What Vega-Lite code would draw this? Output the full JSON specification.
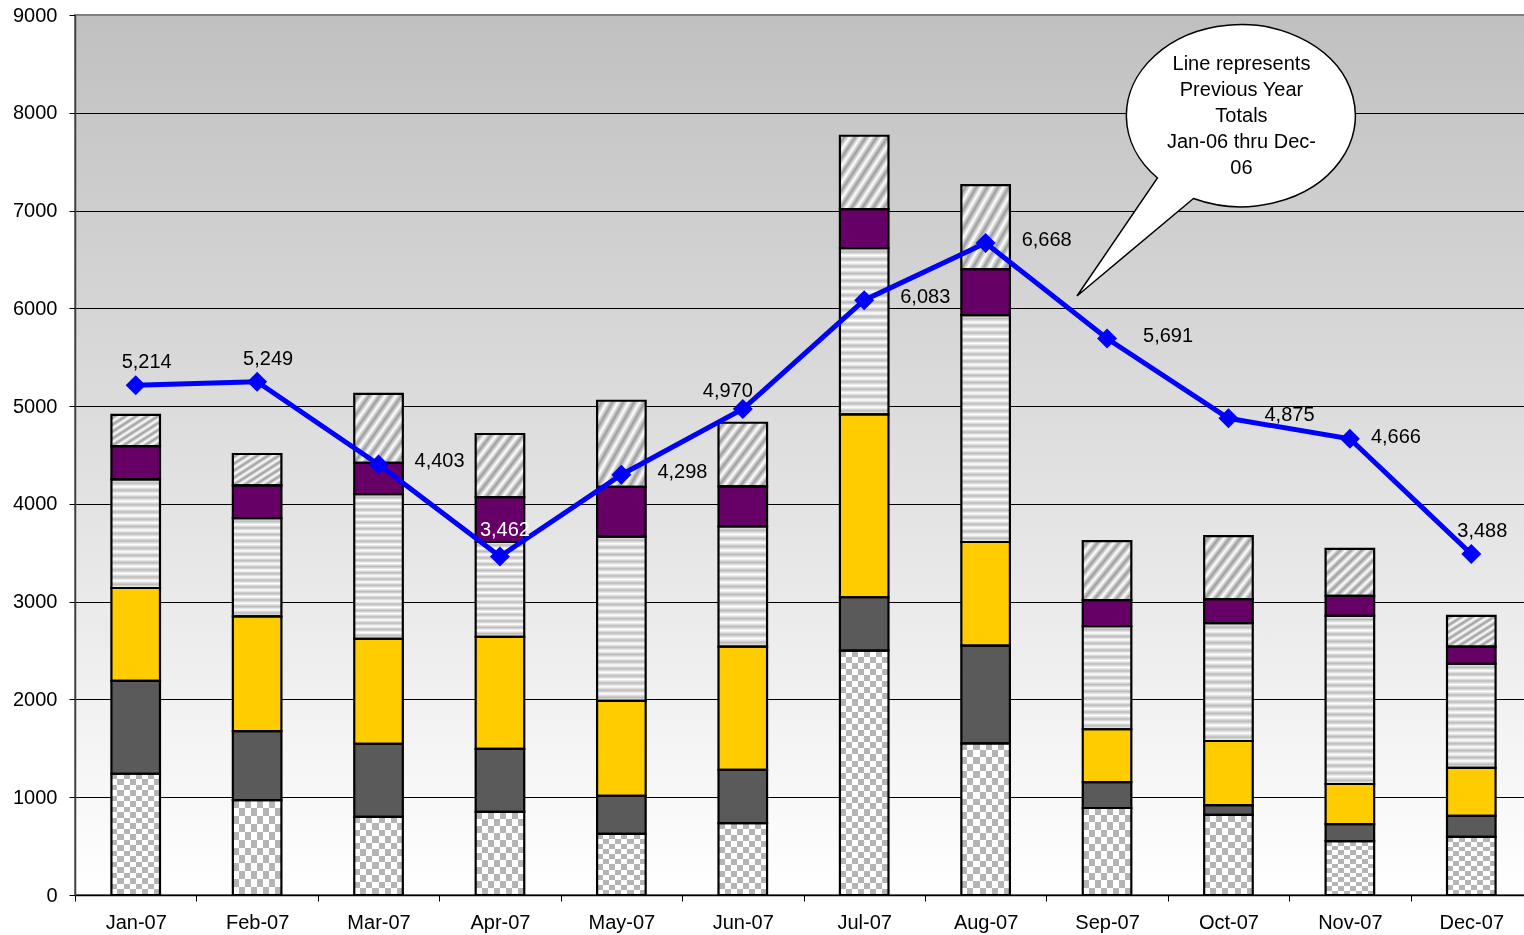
{
  "$schema": "https://vega.github.io/schema/vega-lite/v6.json",
  "width": 1457,
  "height": 880,
  "autosize": {"type": "none"},
  "padding": {"left": 75, "top": 15, "right": 0, "bottom": 40},
  "background": "#ffffff",
  "config": {
    "font": "Liberation Sans",
    "view": {
      "fill": {"gradient": "linear", "x1": 0, "y1": 0, "x2": 0, "y2": 1, "stops": [{"offset": 0, "color": "#c0c0c0"}, {"offset": 1, "color": "#ffffff"}]},
      "stroke": "#808080",
      "strokeWidth": 2
    },
    "axis": {"labelFont": "Liberation Sans", "labelFontSize": 20, "labelColor": "#000", "domainColor": "#000", "tickColor": "#000", "tickSize": 6, "title": null},
    "axisY": {"grid": true, "gridColor": {"condition": {"test": "datum.value === 9000", "value": "#808080"}, "value": "#000"}, "gridWidth": 1, "labelPadding": 12, "domainWidth": 1.5, "domainColor": "#404040", "format": "d"},
    "axisX": {"grid": false, "tickBand": "extent", "labelAngle": 0, "labelPadding": 11, "domainWidth": 1.5}
  },
  "datasets": {
    "segments": [
      {"month": "Jan-07", "series": "A", "value": 1240}, {"month": "Jan-07", "series": "B", "value": 950}, {"month": "Jan-07", "series": "C", "value": 950}, {"month": "Jan-07", "series": "D", "value": 1110}, {"month": "Jan-07", "series": "E", "value": 340}, {"month": "Jan-07", "series": "F", "value": 320},
      {"month": "Feb-07", "series": "A", "value": 970}, {"month": "Feb-07", "series": "B", "value": 705}, {"month": "Feb-07", "series": "C", "value": 1175}, {"month": "Feb-07", "series": "D", "value": 1005}, {"month": "Feb-07", "series": "E", "value": 335}, {"month": "Feb-07", "series": "F", "value": 320},
      {"month": "Mar-07", "series": "A", "value": 800}, {"month": "Mar-07", "series": "B", "value": 745}, {"month": "Mar-07", "series": "C", "value": 1075}, {"month": "Mar-07", "series": "D", "value": 1480}, {"month": "Mar-07", "series": "E", "value": 320}, {"month": "Mar-07", "series": "F", "value": 705},
      {"month": "Apr-07", "series": "A", "value": 850}, {"month": "Apr-07", "series": "B", "value": 645}, {"month": "Apr-07", "series": "C", "value": 1145}, {"month": "Apr-07", "series": "D", "value": 970}, {"month": "Apr-07", "series": "E", "value": 460}, {"month": "Apr-07", "series": "F", "value": 645},
      {"month": "May-07", "series": "A", "value": 625}, {"month": "May-07", "series": "B", "value": 390}, {"month": "May-07", "series": "C", "value": 970}, {"month": "May-07", "series": "D", "value": 1680}, {"month": "May-07", "series": "E", "value": 510}, {"month": "May-07", "series": "F", "value": 880},
      {"month": "Jun-07", "series": "A", "value": 735}, {"month": "Jun-07", "series": "B", "value": 545}, {"month": "Jun-07", "series": "C", "value": 1260}, {"month": "Jun-07", "series": "D", "value": 1230}, {"month": "Jun-07", "series": "E", "value": 410}, {"month": "Jun-07", "series": "F", "value": 650},
      {"month": "Jul-07", "series": "A", "value": 2500}, {"month": "Jul-07", "series": "B", "value": 545}, {"month": "Jul-07", "series": "C", "value": 1870}, {"month": "Jul-07", "series": "D", "value": 1700}, {"month": "Jul-07", "series": "E", "value": 400}, {"month": "Jul-07", "series": "F", "value": 750},
      {"month": "Aug-07", "series": "A", "value": 1550}, {"month": "Aug-07", "series": "B", "value": 1000}, {"month": "Aug-07", "series": "C", "value": 1060}, {"month": "Aug-07", "series": "D", "value": 2320}, {"month": "Aug-07", "series": "E", "value": 470}, {"month": "Aug-07", "series": "F", "value": 860},
      {"month": "Sep-07", "series": "A", "value": 890}, {"month": "Sep-07", "series": "B", "value": 265}, {"month": "Sep-07", "series": "C", "value": 540}, {"month": "Sep-07", "series": "D", "value": 1055}, {"month": "Sep-07", "series": "E", "value": 265}, {"month": "Sep-07", "series": "F", "value": 605},
      {"month": "Oct-07", "series": "A", "value": 820}, {"month": "Oct-07", "series": "B", "value": 100}, {"month": "Oct-07", "series": "C", "value": 655}, {"month": "Oct-07", "series": "D", "value": 1205}, {"month": "Oct-07", "series": "E", "value": 245}, {"month": "Oct-07", "series": "F", "value": 645},
      {"month": "Nov-07", "series": "A", "value": 550}, {"month": "Nov-07", "series": "B", "value": 175}, {"month": "Nov-07", "series": "C", "value": 410}, {"month": "Nov-07", "series": "D", "value": 1720}, {"month": "Nov-07", "series": "E", "value": 205}, {"month": "Nov-07", "series": "F", "value": 480},
      {"month": "Dec-07", "series": "A", "value": 595}, {"month": "Dec-07", "series": "B", "value": 215}, {"month": "Dec-07", "series": "C", "value": 490}, {"month": "Dec-07", "series": "D", "value": 1065}, {"month": "Dec-07", "series": "E", "value": 175}, {"month": "Dec-07", "series": "F", "value": 315}
    ],
    "previous": [
      {"month": "Jan-07", "total": 5214}, {"month": "Feb-07", "total": 5249}, {"month": "Mar-07", "total": 4403}, {"month": "Apr-07", "total": 3462},
      {"month": "May-07", "total": 4298}, {"month": "Jun-07", "total": 4970}, {"month": "Jul-07", "total": 6083}, {"month": "Aug-07", "total": 6668},
      {"month": "Sep-07", "total": 5691}, {"month": "Oct-07", "total": 4875}, {"month": "Nov-07", "total": 4666}, {"month": "Dec-07", "total": 3488}
    ]
  },
  "layer": [
    {
      "data": {"name": "segments"},
      "transform": [{"stack": "value", "groupby": ["month"], "sort": [{"field": "series", "order": "ascending"}], "as": ["y0", "y1"]}],
      "encoding": {
        "x": {"field": "month", "type": "nominal", "title": null, "scale": {"domain": ["Jan-07", "Feb-07", "Mar-07", "Apr-07", "May-07", "Jun-07", "Jul-07", "Aug-07", "Sep-07", "Oct-07", "Nov-07", "Dec-07"], "paddingInner": 0, "paddingOuter": 0}},
        "y": {"field": "y1", "type": "quantitative", "title": null, "scale": {"domain": [0, 9000], "nice": false}, "axis": {"values": [0, 1000, 2000, 3000, 4000, 5000, 6000, 7000, 8000, 9000]}},
        "y2": {"field": "y0"}
      },
      "layer": [
        {
          "transform": [{"filter": "datum.series === 'A'"}],
          "mark": {"type": "bar", "width": {"band": 0.4}, "fill": {"gradient": "linear", "x1": 0, "y1": 0, "x2": 1, "y2": 0, "stops": [{"offset": 0, "color": "#fff"}, {"offset": 0.125, "color": "#fff"}, {"offset": 0.125, "color": "#000"}, {"offset": 0.25, "color": "#000"}, {"offset": 0.25, "color": "#fff"}, {"offset": 0.375, "color": "#fff"}, {"offset": 0.375, "color": "#000"}, {"offset": 0.5, "color": "#000"}, {"offset": 0.5, "color": "#fff"}, {"offset": 0.625, "color": "#fff"}, {"offset": 0.625, "color": "#000"}, {"offset": 0.75, "color": "#000"}, {"offset": 0.75, "color": "#fff"}, {"offset": 0.875, "color": "#fff"}, {"offset": 0.875, "color": "#000"}, {"offset": 1, "color": "#000"}]}}
        },
        {
          "transform": [{"filter": "datum.series === 'A' && datum.value < 1000"}],
          "mark": {"type": "bar", "width": {"band": 0.4}, "blend": "difference", "fill": {"gradient": "linear", "x1": 0, "y1": 0, "x2": 0, "y2": 1, "stops": [{"offset": 0, "color": "#fff"}, {"offset": 0.0833, "color": "#fff"}, {"offset": 0.0833, "color": "#000"}, {"offset": 0.1667, "color": "#000"}, {"offset": 0.1667, "color": "#fff"}, {"offset": 0.25, "color": "#fff"}, {"offset": 0.25, "color": "#000"}, {"offset": 0.3333, "color": "#000"}, {"offset": 0.3333, "color": "#fff"}, {"offset": 0.4167, "color": "#fff"}, {"offset": 0.4167, "color": "#000"}, {"offset": 0.5, "color": "#000"}, {"offset": 0.5, "color": "#fff"}, {"offset": 0.5833, "color": "#fff"}, {"offset": 0.5833, "color": "#000"}, {"offset": 0.6667, "color": "#000"}, {"offset": 0.6667, "color": "#fff"}, {"offset": 0.75, "color": "#fff"}, {"offset": 0.75, "color": "#000"}, {"offset": 0.8333, "color": "#000"}, {"offset": 0.8333, "color": "#fff"}, {"offset": 0.9167, "color": "#fff"}, {"offset": 0.9167, "color": "#000"}, {"offset": 1, "color": "#000"}]}}
        },
        {
          "transform": [{"filter": "datum.series === 'A' && datum.value >= 1000 && datum.value < 2000"}],
          "mark": {"type": "bar", "width": {"band": 0.4}, "blend": "difference", "fill": {"gradient": "linear", "x1": 0, "y1": 0, "x2": 0, "y2": 1, "stops": [{"offset": 0, "color": "#fff"}, {"offset": 0.0455, "color": "#fff"}, {"offset": 0.0455, "color": "#000"}, {"offset": 0.0909, "color": "#000"}, {"offset": 0.0909, "color": "#fff"}, {"offset": 0.1364, "color": "#fff"}, {"offset": 0.1364, "color": "#000"}, {"offset": 0.1818, "color": "#000"}, {"offset": 0.1818, "color": "#fff"}, {"offset": 0.2273, "color": "#fff"}, {"offset": 0.2273, "color": "#000"}, {"offset": 0.2727, "color": "#000"}, {"offset": 0.2727, "color": "#fff"}, {"offset": 0.3182, "color": "#fff"}, {"offset": 0.3182, "color": "#000"}, {"offset": 0.3636, "color": "#000"}, {"offset": 0.3636, "color": "#fff"}, {"offset": 0.4091, "color": "#fff"}, {"offset": 0.4091, "color": "#000"}, {"offset": 0.4545, "color": "#000"}, {"offset": 0.4545, "color": "#fff"}, {"offset": 0.5, "color": "#fff"}, {"offset": 0.5, "color": "#000"}, {"offset": 0.5455, "color": "#000"}, {"offset": 0.5455, "color": "#fff"}, {"offset": 0.5909, "color": "#fff"}, {"offset": 0.5909, "color": "#000"}, {"offset": 0.6364, "color": "#000"}, {"offset": 0.6364, "color": "#fff"}, {"offset": 0.6818, "color": "#fff"}, {"offset": 0.6818, "color": "#000"}, {"offset": 0.7273, "color": "#000"}, {"offset": 0.7273, "color": "#fff"}, {"offset": 0.7727, "color": "#fff"}, {"offset": 0.7727, "color": "#000"}, {"offset": 0.8182, "color": "#000"}, {"offset": 0.8182, "color": "#fff"}, {"offset": 0.8636, "color": "#fff"}, {"offset": 0.8636, "color": "#000"}, {"offset": 0.9091, "color": "#000"}, {"offset": 0.9091, "color": "#fff"}, {"offset": 0.9545, "color": "#fff"}, {"offset": 0.9545, "color": "#000"}, {"offset": 1, "color": "#000"}]}}
        },
        {
          "transform": [{"filter": "datum.series === 'A' && datum.value >= 2000"}],
          "mark": {"type": "bar", "width": {"band": 0.4}, "blend": "difference", "fill": {"gradient": "linear", "x1": 0, "y1": 0, "x2": 0, "y2": 1, "stops": [{"offset": 0, "color": "#fff"}, {"offset": 0.025, "color": "#fff"}, {"offset": 0.025, "color": "#000"}, {"offset": 0.05, "color": "#000"}, {"offset": 0.05, "color": "#fff"}, {"offset": 0.075, "color": "#fff"}, {"offset": 0.075, "color": "#000"}, {"offset": 0.1, "color": "#000"}, {"offset": 0.1, "color": "#fff"}, {"offset": 0.125, "color": "#fff"}, {"offset": 0.125, "color": "#000"}, {"offset": 0.15, "color": "#000"}, {"offset": 0.15, "color": "#fff"}, {"offset": 0.175, "color": "#fff"}, {"offset": 0.175, "color": "#000"}, {"offset": 0.2, "color": "#000"}, {"offset": 0.2, "color": "#fff"}, {"offset": 0.225, "color": "#fff"}, {"offset": 0.225, "color": "#000"}, {"offset": 0.25, "color": "#000"}, {"offset": 0.25, "color": "#fff"}, {"offset": 0.275, "color": "#fff"}, {"offset": 0.275, "color": "#000"}, {"offset": 0.3, "color": "#000"}, {"offset": 0.3, "color": "#fff"}, {"offset": 0.325, "color": "#fff"}, {"offset": 0.325, "color": "#000"}, {"offset": 0.35, "color": "#000"}, {"offset": 0.35, "color": "#fff"}, {"offset": 0.375, "color": "#fff"}, {"offset": 0.375, "color": "#000"}, {"offset": 0.4, "color": "#000"}, {"offset": 0.4, "color": "#fff"}, {"offset": 0.425, "color": "#fff"}, {"offset": 0.425, "color": "#000"}, {"offset": 0.45, "color": "#000"}, {"offset": 0.45, "color": "#fff"}, {"offset": 0.475, "color": "#fff"}, {"offset": 0.475, "color": "#000"}, {"offset": 0.5, "color": "#000"}, {"offset": 0.5, "color": "#fff"}, {"offset": 0.525, "color": "#fff"}, {"offset": 0.525, "color": "#000"}, {"offset": 0.55, "color": "#000"}, {"offset": 0.55, "color": "#fff"}, {"offset": 0.575, "color": "#fff"}, {"offset": 0.575, "color": "#000"}, {"offset": 0.6, "color": "#000"}, {"offset": 0.6, "color": "#fff"}, {"offset": 0.625, "color": "#fff"}, {"offset": 0.625, "color": "#000"}, {"offset": 0.65, "color": "#000"}, {"offset": 0.65, "color": "#fff"}, {"offset": 0.675, "color": "#fff"}, {"offset": 0.675, "color": "#000"}, {"offset": 0.7, "color": "#000"}, {"offset": 0.7, "color": "#fff"}, {"offset": 0.725, "color": "#fff"}, {"offset": 0.725, "color": "#000"}, {"offset": 0.75, "color": "#000"}, {"offset": 0.75, "color": "#fff"}, {"offset": 0.775, "color": "#fff"}, {"offset": 0.775, "color": "#000"}, {"offset": 0.8, "color": "#000"}, {"offset": 0.8, "color": "#fff"}, {"offset": 0.825, "color": "#fff"}, {"offset": 0.825, "color": "#000"}, {"offset": 0.85, "color": "#000"}, {"offset": 0.85, "color": "#fff"}, {"offset": 0.875, "color": "#fff"}, {"offset": 0.875, "color": "#000"}, {"offset": 0.9, "color": "#000"}, {"offset": 0.9, "color": "#fff"}, {"offset": 0.925, "color": "#fff"}, {"offset": 0.925, "color": "#000"}, {"offset": 0.95, "color": "#000"}, {"offset": 0.95, "color": "#fff"}, {"offset": 0.975, "color": "#fff"}, {"offset": 0.975, "color": "#000"}, {"offset": 1, "color": "#000"}]}}
        },
        {
          "transform": [{"filter": "datum.series === 'A'"}],
          "mark": {"type": "bar", "width": {"band": 0.4}, "blend": "screen", "fill": "#b4b4b4"}
        },
        {
          "transform": [{"filter": "datum.series === 'B'"}],
          "mark": {"type": "bar", "width": {"band": 0.4}, "fill": "#5a5a5a"}
        },
        {
          "transform": [{"filter": "datum.series === 'C'"}],
          "mark": {"type": "bar", "width": {"band": 0.4}, "fill": "#ffcc00"}
        },
        {
          "transform": [{"filter": "datum.series === 'D' && datum.value < 1300"}],
          "mark": {"type": "bar", "width": {"band": 0.4}, "fill": {"gradient": "linear", "x1": 0, "y1": 0, "x2": 0, "y2": 1, "stops": [{"offset": 0, "color": "#fff"}, {"offset": 0.0333, "color": "#bbb"}, {"offset": 0.0667, "color": "#fff"}, {"offset": 0.1, "color": "#bbb"}, {"offset": 0.1333, "color": "#fff"}, {"offset": 0.1667, "color": "#bbb"}, {"offset": 0.2, "color": "#fff"}, {"offset": 0.2333, "color": "#bbb"}, {"offset": 0.2667, "color": "#fff"}, {"offset": 0.3, "color": "#bbb"}, {"offset": 0.3333, "color": "#fff"}, {"offset": 0.3667, "color": "#bbb"}, {"offset": 0.4, "color": "#fff"}, {"offset": 0.4333, "color": "#bbb"}, {"offset": 0.4667, "color": "#fff"}, {"offset": 0.5, "color": "#bbb"}, {"offset": 0.5333, "color": "#fff"}, {"offset": 0.5667, "color": "#bbb"}, {"offset": 0.6, "color": "#fff"}, {"offset": 0.6333, "color": "#bbb"}, {"offset": 0.6667, "color": "#fff"}, {"offset": 0.7, "color": "#bbb"}, {"offset": 0.7333, "color": "#fff"}, {"offset": 0.7667, "color": "#bbb"}, {"offset": 0.8, "color": "#fff"}, {"offset": 0.8333, "color": "#bbb"}, {"offset": 0.8667, "color": "#fff"}, {"offset": 0.9, "color": "#bbb"}, {"offset": 0.9333, "color": "#fff"}, {"offset": 0.9667, "color": "#bbb"}, {"offset": 1, "color": "#fff"}]}}
        },
        {
          "transform": [{"filter": "datum.series === 'D' && datum.value >= 1300 && datum.value < 2000"}],
          "mark": {"type": "bar", "width": {"band": 0.4}, "fill": {"gradient": "linear", "x1": 0, "y1": 0, "x2": 0, "y2": 1, "stops": [{"offset": 0, "color": "#fff"}, {"offset": 0.0217, "color": "#bbb"}, {"offset": 0.0435, "color": "#fff"}, {"offset": 0.0652, "color": "#bbb"}, {"offset": 0.087, "color": "#fff"}, {"offset": 0.1087, "color": "#bbb"}, {"offset": 0.1304, "color": "#fff"}, {"offset": 0.1522, "color": "#bbb"}, {"offset": 0.1739, "color": "#fff"}, {"offset": 0.1957, "color": "#bbb"}, {"offset": 0.2174, "color": "#fff"}, {"offset": 0.2391, "color": "#bbb"}, {"offset": 0.2609, "color": "#fff"}, {"offset": 0.2826, "color": "#bbb"}, {"offset": 0.3043, "color": "#fff"}, {"offset": 0.3261, "color": "#bbb"}, {"offset": 0.3478, "color": "#fff"}, {"offset": 0.3696, "color": "#bbb"}, {"offset": 0.3913, "color": "#fff"}, {"offset": 0.413, "color": "#bbb"}, {"offset": 0.4348, "color": "#fff"}, {"offset": 0.4565, "color": "#bbb"}, {"offset": 0.4783, "color": "#fff"}, {"offset": 0.5, "color": "#bbb"}, {"offset": 0.5217, "color": "#fff"}, {"offset": 0.5435, "color": "#bbb"}, {"offset": 0.5652, "color": "#fff"}, {"offset": 0.587, "color": "#bbb"}, {"offset": 0.6087, "color": "#fff"}, {"offset": 0.6304, "color": "#bbb"}, {"offset": 0.6522, "color": "#fff"}, {"offset": 0.6739, "color": "#bbb"}, {"offset": 0.6957, "color": "#fff"}, {"offset": 0.7174, "color": "#bbb"}, {"offset": 0.7391, "color": "#fff"}, {"offset": 0.7609, "color": "#bbb"}, {"offset": 0.7826, "color": "#fff"}, {"offset": 0.8043, "color": "#bbb"}, {"offset": 0.8261, "color": "#fff"}, {"offset": 0.8478, "color": "#bbb"}, {"offset": 0.8696, "color": "#fff"}, {"offset": 0.8913, "color": "#bbb"}, {"offset": 0.913, "color": "#fff"}, {"offset": 0.9348, "color": "#bbb"}, {"offset": 0.9565, "color": "#fff"}, {"offset": 0.9783, "color": "#bbb"}, {"offset": 1, "color": "#fff"}]}}
        },
        {
          "transform": [{"filter": "datum.series === 'D' && datum.value >= 2000"}],
          "mark": {"type": "bar", "width": {"band": 0.4}, "fill": {"gradient": "linear", "x1": 0, "y1": 0, "x2": 0, "y2": 1, "stops": [{"offset": 0, "color": "#fff"}, {"offset": 0.0156, "color": "#bbb"}, {"offset": 0.0313, "color": "#fff"}, {"offset": 0.0469, "color": "#bbb"}, {"offset": 0.0625, "color": "#fff"}, {"offset": 0.0781, "color": "#bbb"}, {"offset": 0.0938, "color": "#fff"}, {"offset": 0.1094, "color": "#bbb"}, {"offset": 0.125, "color": "#fff"}, {"offset": 0.1406, "color": "#bbb"}, {"offset": 0.1563, "color": "#fff"}, {"offset": 0.1719, "color": "#bbb"}, {"offset": 0.1875, "color": "#fff"}, {"offset": 0.2031, "color": "#bbb"}, {"offset": 0.2188, "color": "#fff"}, {"offset": 0.2344, "color": "#bbb"}, {"offset": 0.25, "color": "#fff"}, {"offset": 0.2656, "color": "#bbb"}, {"offset": 0.2813, "color": "#fff"}, {"offset": 0.2969, "color": "#bbb"}, {"offset": 0.3125, "color": "#fff"}, {"offset": 0.3281, "color": "#bbb"}, {"offset": 0.3438, "color": "#fff"}, {"offset": 0.3594, "color": "#bbb"}, {"offset": 0.375, "color": "#fff"}, {"offset": 0.3906, "color": "#bbb"}, {"offset": 0.4063, "color": "#fff"}, {"offset": 0.4219, "color": "#bbb"}, {"offset": 0.4375, "color": "#fff"}, {"offset": 0.4531, "color": "#bbb"}, {"offset": 0.4688, "color": "#fff"}, {"offset": 0.4844, "color": "#bbb"}, {"offset": 0.5, "color": "#fff"}, {"offset": 0.5156, "color": "#bbb"}, {"offset": 0.5313, "color": "#fff"}, {"offset": 0.5469, "color": "#bbb"}, {"offset": 0.5625, "color": "#fff"}, {"offset": 0.5781, "color": "#bbb"}, {"offset": 0.5938, "color": "#fff"}, {"offset": 0.6094, "color": "#bbb"}, {"offset": 0.625, "color": "#fff"}, {"offset": 0.6406, "color": "#bbb"}, {"offset": 0.6563, "color": "#fff"}, {"offset": 0.6719, "color": "#bbb"}, {"offset": 0.6875, "color": "#fff"}, {"offset": 0.7031, "color": "#bbb"}, {"offset": 0.7188, "color": "#fff"}, {"offset": 0.7344, "color": "#bbb"}, {"offset": 0.75, "color": "#fff"}, {"offset": 0.7656, "color": "#bbb"}, {"offset": 0.7813, "color": "#fff"}, {"offset": 0.7969, "color": "#bbb"}, {"offset": 0.8125, "color": "#fff"}, {"offset": 0.8281, "color": "#bbb"}, {"offset": 0.8438, "color": "#fff"}, {"offset": 0.8594, "color": "#bbb"}, {"offset": 0.875, "color": "#fff"}, {"offset": 0.8906, "color": "#bbb"}, {"offset": 0.9063, "color": "#fff"}, {"offset": 0.9219, "color": "#bbb"}, {"offset": 0.9375, "color": "#fff"}, {"offset": 0.9531, "color": "#bbb"}, {"offset": 0.9688, "color": "#fff"}, {"offset": 0.9844, "color": "#bbb"}, {"offset": 1, "color": "#fff"}]}}
        },
        {
          "transform": [{"filter": "datum.series === 'E'"}],
          "mark": {"type": "bar", "width": {"band": 0.4}, "fill": "#660066"}
        },
        {
          "transform": [{"filter": "datum.series === 'F'"}],
          "mark": {"type": "bar", "width": {"band": 0.4}, "fill": {"gradient": "linear", "x1": 0, "y1": 0, "x2": 1, "y2": 1, "stops": [{"offset": 0, "color": "#fff"}, {"offset": 0.0556, "color": "#9c9c9c"}, {"offset": 0.1111, "color": "#fff"}, {"offset": 0.1667, "color": "#9c9c9c"}, {"offset": 0.2222, "color": "#fff"}, {"offset": 0.2778, "color": "#9c9c9c"}, {"offset": 0.3333, "color": "#fff"}, {"offset": 0.3889, "color": "#9c9c9c"}, {"offset": 0.4444, "color": "#fff"}, {"offset": 0.5, "color": "#9c9c9c"}, {"offset": 0.5556, "color": "#fff"}, {"offset": 0.6111, "color": "#9c9c9c"}, {"offset": 0.6667, "color": "#fff"}, {"offset": 0.7222, "color": "#9c9c9c"}, {"offset": 0.7778, "color": "#fff"}, {"offset": 0.8333, "color": "#9c9c9c"}, {"offset": 0.8889, "color": "#fff"}, {"offset": 0.9444, "color": "#9c9c9c"}, {"offset": 1, "color": "#fff"}]}}
        },
        {
          "mark": {"type": "bar", "width": {"band": 0.4}, "fillOpacity": 0, "stroke": "#000", "strokeWidth": 2.2}
        }
      ]
    },
    {
      "data": {"name": "previous"},
      "encoding": {
        "x": {"field": "month", "type": "nominal", "title": null},
        "y": {"field": "total", "type": "quantitative", "title": null, "scale": {"domain": [0, 9000], "nice": false}}
      },
      "layer": [
        {"mark": {"type": "line", "stroke": "#0000ff", "strokeWidth": 5}},
        {"mark": {"type": "point", "shape": "diamond", "filled": true, "size": 400, "fill": "#0000ff", "opacity": 1}},
        {
          "transform": [{"filter": "indexof(['Jan-07', 'Feb-07', 'Dec-07'], datum.month) >= 0"}],
          "mark": {"type": "text", "fontSize": 20, "align": "center", "baseline": "middle", "dx": 11, "dy": -23, "fill": "#000"},
          "encoding": {"text": {"field": "total", "type": "quantitative", "format": ",d"}}
        },
        {
          "transform": [{"filter": "datum.month === 'Apr-07'"}],
          "mark": {"type": "text", "fontSize": 20, "align": "center", "baseline": "middle", "dx": 5, "dy": -26, "fill": "#ffffff"},
          "encoding": {"text": {"field": "total", "type": "quantitative", "format": ",d"}}
        },
        {
          "transform": [{"filter": "datum.month === 'Jun-07'"}],
          "mark": {"type": "text", "fontSize": 20, "align": "center", "baseline": "middle", "dx": -15, "dy": -18, "fill": "#000"},
          "encoding": {"text": {"field": "total", "type": "quantitative", "format": ",d"}}
        },
        {
          "transform": [{"filter": "indexof(['Mar-07', 'May-07', 'Jul-07', 'Aug-07', 'Sep-07', 'Oct-07'], datum.month) >= 0"}],
          "mark": {"type": "text", "fontSize": 20, "align": "left", "baseline": "middle", "dx": 36, "dy": -3, "fill": "#000"},
          "encoding": {"text": {"field": "total", "type": "quantitative", "format": ",d"}}
        },
        {
          "transform": [{"filter": "datum.month === 'Nov-07'"}],
          "mark": {"type": "text", "fontSize": 20, "align": "left", "baseline": "middle", "dx": 21, "dy": -2, "fill": "#000"},
          "encoding": {"text": {"field": "total", "type": "quantitative", "format": ",d"}}
        }
      ]
    },
    {
      "data": {"values": [{}]},
      "mark": {"type": "point", "shape": "M -0.48 0.825 A 1.145 0.91 0 1 0 -0.84 0.62 L -1.645 1.8 Z", "size": 40000, "filled": true, "fill": "#ffffff", "stroke": "#000", "strokeWidth": 1.5, "opacity": 1, "xOffset": 13},
      "encoding": {
        "x": {"datum": "Oct-07", "type": "nominal"},
        "y": {"datum": 7967, "type": "quantitative"}
      }
    },
    {
      "data": {"values": [{}]},
      "mark": {"type": "text", "fontSize": 20, "lineHeight": 26, "align": "center", "baseline": "middle", "dx": 13, "dy": -52, "fill": "#000"},
      "encoding": {
        "x": {"datum": "Oct-07", "type": "nominal"},
        "y": {"datum": 7967, "type": "quantitative"},
        "text": {"value": ["Line represents", "Previous Year", "Totals", "Jan-06 thru Dec-", "06"]}
      }
    }
  ]
}
